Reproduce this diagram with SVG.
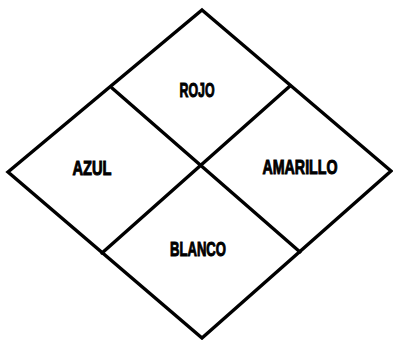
<svg xmlns="http://www.w3.org/2000/svg" width="393" height="340" viewBox="0 0 393 340">
<style>
.ln{fill:none;stroke:#000;stroke-width:3.4;stroke-linejoin:miter;stroke-linecap:round}
.lb{font-family:"Liberation Sans","DejaVu Sans",sans-serif;font-weight:bold;font-size:20px;fill:#000;stroke:#000;stroke-width:1;text-anchor:middle}
</style>
<rect width="393" height="340" fill="#fff"/>
<g id="connectors">
<polygon class="ln" points="202,10 391,171 202,338 8,172"/>
<line class="ln" x1="112" y1="88" x2="300" y2="252"/>
<line class="ln" x1="290" y1="86" x2="102" y2="253"/>
</g>
<g id="rojo"><text class="lb" x="197" y="97" textLength="35" lengthAdjust="spacingAndGlyphs">ROJO</text></g>
<g id="azul"><text class="lb" x="92" y="175" textLength="39" lengthAdjust="spacingAndGlyphs">AZUL</text></g>
<g id="amarillo"><text class="lb" x="300" y="174" textLength="75" lengthAdjust="spacingAndGlyphs">AMARILLO</text></g>
<g id="blanco"><text class="lb" x="198" y="256" textLength="56" lengthAdjust="spacingAndGlyphs">BLANCO</text></g>
</svg>
